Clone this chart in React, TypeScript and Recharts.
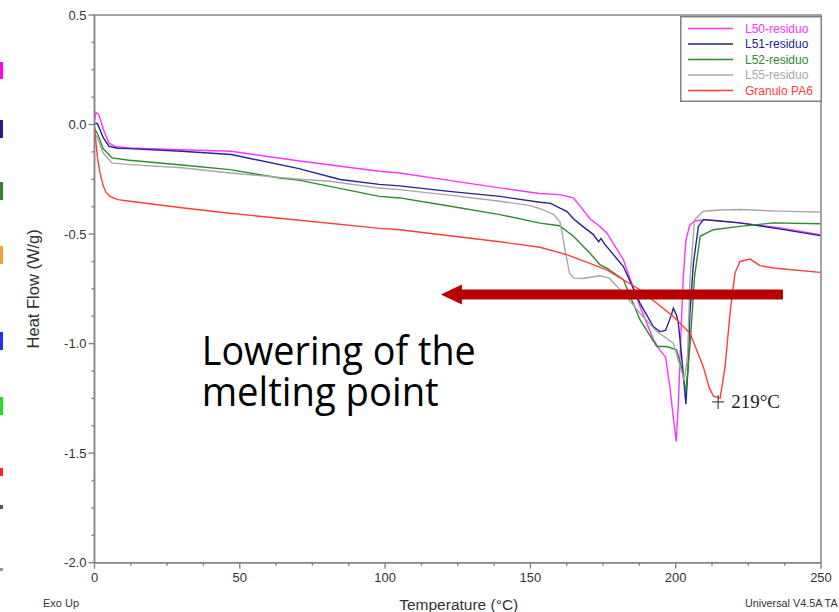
import React from 'react';
import { LineChart, Line, XAxis, YAxis, ReferenceArea, ReferenceLine, ReferenceDot, Legend } from 'recharts';

// ---------- data (T in °C, v in W/g) ----------
const L50 = [
  [0, 0.02], [0.5, 0.055], [1.5, 0.045], [3, -0.02], [5, -0.085], [7, -0.1], [12, -0.107], [30, -0.115], [47, -0.122],
  [70, -0.165], [98, -0.213], [105, -0.221], [122, -0.255], [140, -0.29], [153, -0.315], [160, -0.32], [164.8, -0.335],
  [167, -0.37], [170.5, -0.43], [173.9, -0.465], [176.3, -0.495], [182, -0.617], [187.7, -0.83], [192.3, -0.98],
  [194.5, -1.03], [196.5, -1.06], [198, -1.2], [199.3, -1.35], [200.2, -1.447], [201, -1.25], [201.8, -0.95],
  [202.6, -0.7], [203.5, -0.53], [204.8, -0.46], [206.5, -0.44], [210.7, -0.434], [222, -0.449], [235, -0.47], [249.7, -0.503],
].map(([t, v]) => ({ t, v }));

const L51 = [
  [0, 0.005], [1, 0.005], [3, -0.06], [5, -0.1], [8, -0.108], [12, -0.11], [30, -0.122], [47, -0.137], [70, -0.2],
  [84.5, -0.251], [98, -0.273], [105, -0.28], [122, -0.305], [139.5, -0.328], [153.3, -0.355], [157, -0.36], [160, -0.38],
  [162.5, -0.396], [164.8, -0.43], [168, -0.465], [171.5, -0.5], [173.5, -0.535], [174.3, -0.52], [175.5, -0.545],
  [182, -0.648], [187.7, -0.815], [192.3, -0.922], [194.5, -0.945], [196.5, -0.94], [198.5, -0.87], [199.2, -0.838],
  [200.3, -0.87], [200.9, -0.906], [202, -1.05], [203.5, -1.276], [204.3, -1.1], [204.9, -0.861], [206.1, -0.632],
  [207.8, -0.465], [209.5, -0.434], [215, -0.44], [222, -0.449], [235, -0.475], [249.7, -0.507],
].map(([t, v]) => ({ t, v }));

const L52 = [
  [0, -0.02], [1, -0.04], [3, -0.11], [6, -0.152], [12, -0.163], [30, -0.185], [46.6, -0.206], [63.8, -0.244],
  [70.7, -0.255], [98, -0.328], [105, -0.335], [122, -0.372], [139.5, -0.411], [153.3, -0.45], [160, -0.462],
  [164.8, -0.51], [170.5, -0.587], [173.9, -0.64], [176.3, -0.655], [182, -0.708], [187.7, -0.891], [193.5, -1.013],
  [196.9, -1.013], [200.3, -1.028], [202.2, -1.12], [203.5, -1.219], [204.9, -1.013], [206.5, -0.693], [208.4, -0.51],
  [212.9, -0.48], [222, -0.465], [233.6, -0.449], [249.7, -0.453],
].map(([t, v]) => ({ t, v }));

const L55 = [
  [0, -0.04], [1, -0.06], [3, -0.13], [6, -0.175], [12, -0.183], [30, -0.197], [46.6, -0.221], [70.7, -0.25],
  [81, -0.259], [98, -0.29], [105, -0.297], [122, -0.322], [139.5, -0.35], [150, -0.37], [153.5, -0.385], [158, -0.41],
  [160.2, -0.445], [161, -0.5], [162, -0.58], [163.5, -0.68], [165, -0.701], [168, -0.703], [173.9, -0.69], [177, -0.7],
  [182, -0.769], [187.7, -0.861], [193.5, -0.945], [199.2, -0.998], [201.5, -1.105], [203, -1.167], [204.1, -1.05],
  [204.9, -0.708], [206.5, -0.434], [209.5, -0.396], [215, -0.39], [222, -0.388], [235, -0.395], [249.7, -0.399],
].map(([t, v]) => ({ t, v }));

const PA6 = [
  [0, -0.01], [0.5, -0.08], [1, -0.15], [1.9, -0.221], [3, -0.28], [4, -0.31], [5.3, -0.328], [8, -0.343], [12.2, -0.35],
  [30, -0.38], [46.6, -0.405], [70.7, -0.437], [98.2, -0.474], [105, -0.48], [139.5, -0.535], [153.3, -0.56],
  [162.5, -0.594], [164.8, -0.605], [176.3, -0.663], [187.7, -0.754], [199.2, -0.876], [204.9, -0.952], [209.5, -1.105],
  [211.5, -1.2], [213, -1.24], [215.3, -1.249], [217, -1.105], [218.7, -0.861], [220.4, -0.678], [222.1, -0.625],
  [225.6, -0.614], [229, -0.644], [233.6, -0.655], [249.7, -0.675],
].map(([t, v]) => ({ t, v }));

const seriesNames = ['L50-residuo', 'L51-residuo', 'L52-residuo', 'L55-residuo', 'Granulo PA6'];
const seriesColors = ['#ff33ff', '#24248f', '#2e8b2e', '#a8a8a8', '#ff3b3b'];
const seriesData = [L50, L51, L52, L55, PA6];

const xTicks = [0, 12.5, 25, 37.5, 50, 62.5, 75, 87.5, 100, 112.5, 125, 137.5, 150, 162.5, 175, 187.5, 200, 212.5, 225, 237.5, 250];
const xMajor = [0, 50, 100, 150, 200, 250];
const yTicks = [-2, -1.875, -1.75, -1.625, -1.5, -1.375, -1.25, -1.125, -1, -0.875, -0.75, -0.625, -0.5, -0.375, -0.25, -0.125, 0, 0.125, 0.25, 0.375, 0.5];
const yMajor = [-2, -1.5, -1, -0.5, 0, 0.5];

const peakLabel = '219°C';
const peakPoint = { t: 214.6, v: -1.266 };
const arrowSeg = { from: 119.2, to: 236.9, v: -0.776 };
const noteLines = ['Lowering of the', 'melting point'];
const notePoint = { t: 36.9, v: -1.098 };

const sideMarks = [
  { y: 62, h: 17, c: '#ff00ff' },
  { y: 120, h: 18, c: '#1f1f8f' },
  { y: 182, h: 18, c: '#2a8a2a' },
  { y: 246, h: 18, c: '#f5a030' },
  { y: 332, h: 18, c: '#2030ff' },
  { y: 397, h: 18, c: '#20e020' },
  { y: 468, h: 8, c: '#ff2020' },
  { y: 505, h: 4, c: '#555555' },
  { y: 568, h: 3, c: '#999999' },
];

const AXIS = '#858585';
const SANS = '"Liberation Sans", Arial, sans-serif';

const isIn = (arr: number[], v: number) => arr.some((a) => Math.abs(a - v) < 1e-6);

const YTick = (props: any) => {
  const { x, y, payload } = props;
  const major = isIn(yMajor, payload.value);
  return (
    <g>
      <line x1={major ? x - 6 : x - 3} x2={x} y1={y} y2={y} stroke={AXIS} strokeWidth={1.4} />
      {major && (
        <text x={x - 8} y={y} dy={4.5} textAnchor="end" fontSize={13} fill="#333" fontFamily={SANS}>
          {payload.value.toFixed(1)}
        </text>
      )}
    </g>
  );
};

const XTick = (props: any) => {
  const { x, y, payload } = props;
  const major = isIn(xMajor, payload.value);
  return (
    <g>
      <line x1={x} x2={x} y1={y} y2={major ? y + 6 : y + 3} stroke={AXIS} strokeWidth={1.4} />
      {major && (
        <text x={x} y={y + 19} textAnchor="middle" fontSize={13} fill="#333" fontFamily={SANS}>
          {String(payload.value)}
        </text>
      )}
    </g>
  );
};

const YLabel = (props: any) => {
  const vb = props.viewBox || {};
  const cx = 34;
  const cy = vb.y + vb.height / 2;
  return (
    <text x={cx} y={cy} transform={`rotate(-90 ${cx} ${cy})`} textAnchor="middle" dy={5} fontSize={16.5} fill="#333" fontFamily={SANS}>
      Heat Flow (W/g)
    </text>
  );
};

const XLabel = (props: any) => {
  const vb = props.viewBox || {};
  const cx = vb.x + vb.width / 2;
  return (
    <g fontFamily={SANS} fill="#333">
      <text x={cx + 1} y={610} textAnchor="middle" fontSize={15.5}>Temperature (°C)</text>
      <text x={43} y={607} fontSize={11}>Exo Up</text>
      <text x={745} y={607} fontSize={10.8}>Universal V4.5A TA</text>
    </g>
  );
};

const ArrowShape = (props: any) => {
  const { x1, y1, x2 } = props;
  const left = Math.min(x1, x2);
  const right = Math.max(x1, x2);
  const y = y1;
  const pts = [
    [left, y],
    [left + 21, y - 10],
    [left + 21, y - 5],
    [right, y - 5],
    [right, y + 5],
    [left + 21, y + 5],
    [left + 21, y + 10],
  ].map((p) => p.join(',')).join(' ');
  return <polygon points={pts} fill="#b80000" />;
};

const PeakShape = (props: any) => {
  const { cx, cy } = props;
  return (
    <g>
      <line x1={cx - 6} x2={cx + 6} y1={cy} y2={cy} stroke="#555" strokeWidth={1.3} />
      <line x1={cx} x2={cx} y1={cy - 7} y2={cy + 7} stroke="#555" strokeWidth={1.3} />
      <text x={cx + 13} y={cy + 6.5} fontSize={19} fill="#222" fontFamily='"Liberation Serif", "Times New Roman", serif'>
        {peakLabel}
      </text>
    </g>
  );
};

const NoteShape = (props: any) => {
  const { cx, cy } = props;
  return (
    <g fontFamily='"Open Sans", "Noto Sans", sans-serif' fill="#000" fontSize={40}>
      <text x={cx} y={cy} textLength={274} lengthAdjust="spacingAndGlyphs">{noteLines[0]}</text>
      <text x={cx} y={cy + 41} textLength={237} lengthAdjust="spacingAndGlyphs">{noteLines[1]}</text>
    </g>
  );
};

const LegendBox = (props: any) => {
  const payload = [...(props.payload || [])].sort(
    (a: any, b: any) => seriesNames.indexOf(a.value) - seriesNames.indexOf(b.value)
  );
  return (
    <svg width={142} height={86} style={{ display: 'block' }}>
      <rect x={0.75} y={0.75} width={140.5} height={84.5} fill="#fff" stroke="#808080" strokeWidth={1.5} />
      {payload.map((p: any, i: number) => {
        const y = 12.5 + i * 15.5;
        return (
          <g key={i}>
            <line x1={8} x2={53} y1={y} y2={y} stroke={p.color} strokeWidth={1.3} />
            <text x={65} y={y + 4.3} fontSize={12} fill={p.color} fontFamily={SANS}>{p.value}</text>
          </g>
        );
      })}
    </svg>
  );
};

export default function App() {
  return (
    <div style={{ position: 'absolute', left: 0, top: 0, width: 839, height: 612, background: '#fff', overflow: 'hidden' }}>
      {sideMarks.map((m, i) => (
        <div key={i} style={{ position: 'absolute', left: 0, top: m.y, width: 3, height: m.h, background: m.c }} />
      ))}
      <LineChart width={839} height={612} margin={{ top: 15, right: 18, bottom: 19.3, left: 0 }}>
        <ReferenceArea x1={0} x2={250} y1={-2} y2={0.5} fill="none" stroke={AXIS} strokeWidth={1.5} ifOverflow="visible" />
        <XAxis
          type="number"
          dataKey="t"
          domain={[0, 250]}
          ticks={xTicks}
          interval={0}
          tickSize={0}
          tickMargin={0}
          tickLine={false}
          tick={<XTick />}
          axisLine={{ stroke: AXIS, strokeWidth: 1.5 }}
          height={30}
          allowDataOverflow
          label={<XLabel />}
        />
        <YAxis
          type="number"
          domain={[-2, 0.5]}
          ticks={yTicks}
          interval={0}
          tickSize={0}
          tickMargin={0}
          tickLine={false}
          tick={<YTick />}
          axisLine={{ stroke: AXIS, strokeWidth: 1.5 }}
          width={94.5}
          allowDataOverflow
          label={<YLabel />}
        />
        {seriesData.map((d, i) => (
          <Line
            key={seriesNames[i]}
            data={d}
            dataKey="v"
            name={seriesNames[i]}
            stroke={seriesColors[i]}
            strokeWidth={1.4}
            dot={false}
            activeDot={false}
            type="linear"
            isAnimationActive={false}
          />
        ))}
        <ReferenceDot x={notePoint.t} y={notePoint.v} shape={<NoteShape />} ifOverflow="visible" />
        <ReferenceDot x={peakPoint.t} y={peakPoint.v} shape={<PeakShape />} ifOverflow="visible" />
        <ReferenceLine
          segment={[{ x: arrowSeg.from, y: arrowSeg.v }, { x: arrowSeg.to, y: arrowSeg.v }]}
          shape={<ArrowShape />}
          ifOverflow="visible"
        />
        <Legend
          layout="vertical"
          align="center"
          verticalAlign="middle"
          content={<LegendBox />}
          wrapperStyle={{ left: 680, top: 16, width: 142, height: 86 }}
        />
      </LineChart>
    </div>
  );
}
